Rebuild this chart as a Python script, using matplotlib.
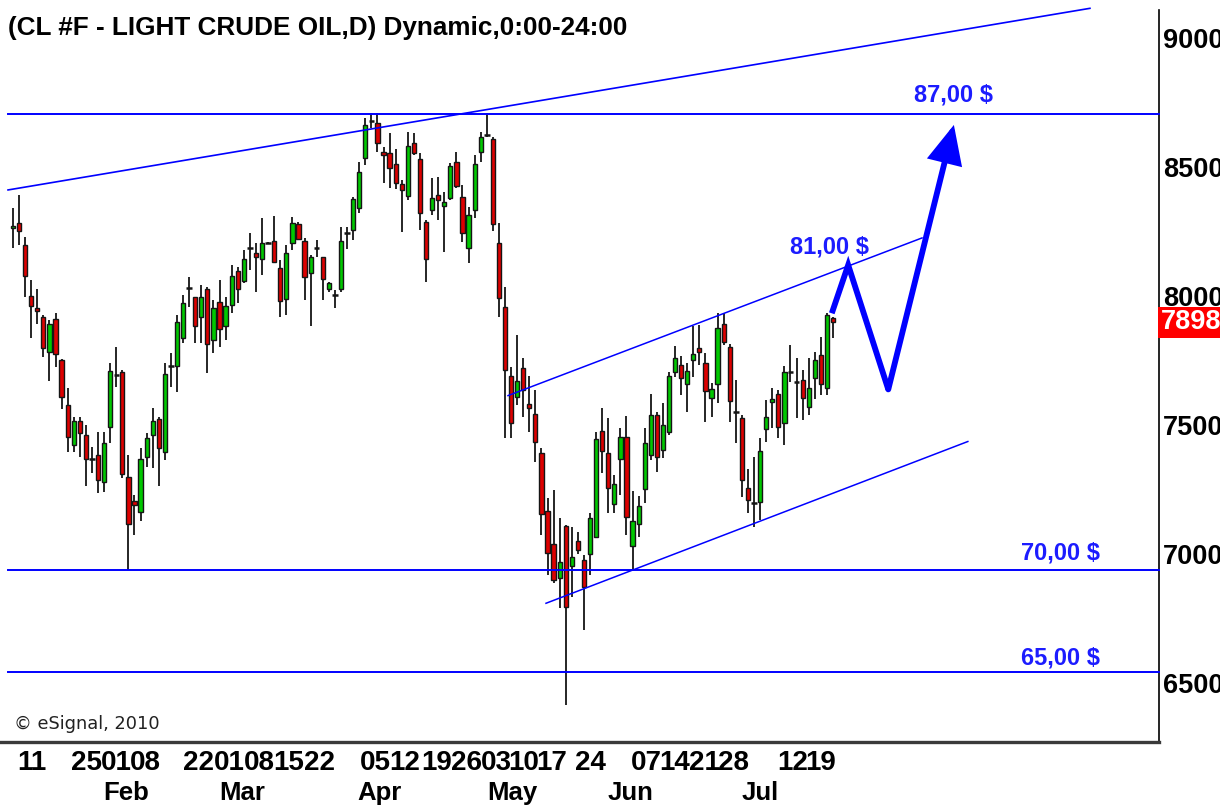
import matplotlib
matplotlib.use("Agg")
import matplotlib.pyplot as plt
import matplotlib.transforms as mtransforms
from matplotlib.patches import Rectangle

# ---------------- data (prices in cents, daily candles Jan 6 - Jul 21 2010) ----------------
opens = [8265, 8284, 8198, 8001, 7955, 7920, 7782, 7910, 7752, 7578,
         7422, 7517, 7461, 7367, 7384, 7280, 7491, 7694, 7707, 7297,
         7207, 7162, 7377, 7461, 7523, 7397, 7729, 7729, 7838, 8032,
         7995, 7920, 8026, 7829, 7978, 7885, 7965, 8098, 8058, 8185,
         8165, 8143, 8207, 8214, 8107, 7987, 8207, 8279, 8214, 8090,
         8185, 8150, 8026, 8004, 8026, 8243, 8256, 8340, 8534, 8680,
         8669, 8559, 8553, 8512, 8434, 8388, 8592, 8530, 8288, 8333,
         8391, 8349, 8379, 8521, 8385, 8185, 8333, 8559, 8624, 8607,
         8207, 7956, 7690, 7610, 7720, 7580, 7541, 7393, 7168, 7037,
         6906, 7109, 6954, 7052, 6977, 6999, 7067, 7477, 7390, 7194,
         7368, 7452, 7031, 7115, 7251, 7384, 7539, 7403, 7474, 7707,
         7733, 7658, 7752, 7797, 7742, 7603, 7658, 7891, 7804, 7552,
         7526, 7257, 7196, 7203, 7483, 7588, 7619, 7506, 7707, 7665,
         7674, 7571, 7681, 7771, 7642, 7913]
highs = [8340, 8391, 8230, 8062, 8026, 7926, 7907, 7933, 7755, 7642,
         7532, 7532, 7500, 7416, 7474, 7474, 7739, 7804, 7713, 7384,
         7229, 7410, 7468, 7565, 7532, 7739, 7778, 7926, 8004, 8075,
         7997, 8043, 8036, 7984, 8062, 7997, 8120, 8114, 8178, 8243,
         8204, 8301, 8211, 8310, 8140, 8198, 8305, 8288, 8223, 8159,
         8217, 8152, 8056, 8023, 8269, 8269, 8385, 8521, 8689, 8708,
         8708, 8579, 8630, 8568, 8450, 8637, 8630, 8553, 8295, 8456,
         8463, 8404, 8514, 8559, 8430, 8346, 8547, 8637, 8708, 8618,
         8282, 8036, 7726, 7849, 7761, 7690, 7636, 7410, 7216, 7248,
         7138, 7112, 7106, 7087, 6996, 7158, 7474, 7565, 7526, 7306,
         7487, 7535, 7245, 7225, 7487, 7620, 7552, 7587, 7707, 7806,
         7767, 7739, 7884, 7888, 7778, 7661, 7933, 7933, 7814, 7674,
         7539, 7328, 7377, 7448, 7597, 7642, 7636, 7729, 7810, 7758,
         7713, 7758, 7784, 7842, 7933, 7920]
lows = [8185, 8198, 7997, 7836, 7891, 7765, 7671, 7726, 7561, 7397,
        7397, 7377, 7263, 7313, 7238, 7242, 7429, 7649, 7296, 6938,
        7074, 7128, 7338, 7332, 7263, 7364, 7649, 7629, 7817, 7959,
        7817, 7817, 7703, 7778, 7804, 7829, 7933, 7972, 8049, 8101,
        8017, 8081, 8204, 8127, 7920, 7926, 8178, 8217, 7984, 7884,
        8152, 7984, 8017, 7952, 8017, 8181, 8217, 8320, 8508, 8650,
        8559, 8439, 8417, 8413, 8249, 8372, 8547, 8256, 8056, 8314,
        8295, 8172, 8372, 8417, 8211, 8127, 8301, 8521, 8618, 8252,
        7920, 7448, 7448, 7578, 7532, 7474, 7358, 7074, 6919, 6886,
        6789, 6415, 6835, 6999, 6705, 6919, 7061, 7313, 7158, 7158,
        7229, 7074, 6938, 7067, 7196, 7364, 7319, 7371, 7461, 7687,
        7616, 7552, 7687, 7733, 7513, 7532, 7584, 7810, 7513, 7429,
        7222, 7158, 7106, 7132, 7435, 7487, 7448, 7422, 7668, 7528,
        7519, 7539, 7599, 7616, 7616, 7836]
closes = [8270, 8253, 8079, 7962, 7943, 7797, 7891, 7775, 7610, 7452,
          7517, 7470, 7367, 7367, 7287, 7429, 7711, 7694, 7310, 7115,
          7190, 7367, 7448, 7517, 7412, 7698, 7729, 7900, 7972, 8032,
          7885, 7995, 7814, 7955, 7871, 7963, 8077, 8027, 8142, 8185,
          8150, 8207, 8207, 8130, 7982, 8168, 8284, 8220, 8072, 8150,
          8185, 8065, 8049, 8004, 8214, 8243, 8375, 8482, 8663, 8680,
          8592, 8547, 8495, 8437, 8411, 8581, 8553, 8323, 8142, 8379,
          8372, 8363, 8505, 8426, 8245, 8314, 8512, 8615, 8624, 8278,
          7994, 7713, 7509, 7670, 7636, 7565, 7435, 7154, 7005, 6899,
          6970, 6793, 6990, 7015, 6871, 7141, 7444, 7399, 7257, 7270,
          7452, 7145, 7129, 7186, 7429, 7539, 7375, 7500, 7690, 7758,
          7683, 7711, 7775, 7784, 7633, 7638, 7877, 7823, 7594, 7552,
          7287, 7209, 7196, 7399, 7532, 7602, 7494, 7704, 7707, 7665,
          7603, 7642, 7752, 7658, 7926, 7898]

last_price = 7898
day_labels = ["11", "25", "01", "08", "22", "01", "08", "15", "22", "05", "12", "19",
              "26", "03", "10", "17", "24", "07", "14", "21", "28", "12", "19"]
day_label_pos = [3.1, 12.1, 17.0, 21.8, 30.5, 35.6, 40.5, 45.4, 50.5, 59.6, 64.5, 69.8,
                 74.7, 79.5, 84.1, 88.7, 95.0, 104.2, 109.0, 113.8, 118.7, 128.3, 133.0]
month_labels = ["Feb", "Mar", "Apr", "May", "Jun", "Jul"]
month_label_pos = [18.6, 37.7, 60.3, 82.2, 101.6, 123.0]
y_ticks = [6500, 7000, 7500, 8000, 8500, 9000]

# horizontal levels
level_prices = [8705, 6938, 6542]
level_texts = ["87,00 $", "70,00 $", "65,00 $"]
level_text_pos = [(154.8, 8779), (172.4, 7004), (172.4, 6597)]

# trend lines: (x0, p0, x1, p1)
long_trend = (-0.82, 8411, 177.3, 9115)
channel_top = (81.5, 7614, 149.65, 8225)
channel_bottom = (87.75, 6809, 157.2, 7436)
target_text = ("81,00 $", 134.5, 8190)

# projected path
proj_x = [134.8, 137.5, 144.1, 154.9]
proj_p = [7933, 8120, 7638, 8663]

# ---------------- figure ----------------
W, H = 1220, 806
fig = plt.figure(figsize=(W / 100, H / 100), dpi=100)
fig.patch.set_facecolor("white")
ax = fig.add_axes([0, 64 / H, 1159 / W, 732 / H])
ax.set_xlim(-2.14, 188.67)
ax.set_ylim(6271.3, 9108.5)
ax.set_facecolor("white")

FAM = ["Liberation Sans", "DejaVu Sans"]
BLUE = "#0000ff"
LBLUE = "#1c1cff"

for s in ["left", "top"]:
    ax.spines[s].set_visible(False)
ax.spines["right"].set_color("black")
ax.spines["right"].set_linewidth(1.2)
ax.spines["bottom"].set_color("#3a3a3a")
ax.spines["bottom"].set_linewidth(2.4)

# candles
bw = 0.70
for i, (o, h, l, c) in enumerate(zip(opens, highs, lows, closes)):
    ax.plot([i, i], [l, h], color="#151515", lw=1.3, zorder=2, solid_capstyle="butt")
    if abs(c - o) < 4:
        ax.plot([i - 0.45, i + 0.45], [c, c], color="#151515", lw=1.8, zorder=3,
                solid_capstyle="butt")
    else:
        col = "#00c800" if c > o else "#dd0000"
        ax.add_patch(Rectangle((i - bw / 2, min(o, c)), bw, abs(c - o),
                               facecolor=col, edgecolor="#151515", lw=1.0, zorder=3))

# horizontal level lines
for lvl in level_prices:
    ax.plot([-0.82, 188.67], [lvl, lvl], color=BLUE, lw=1.4, zorder=4, clip_on=False)
for t, (xx, pp) in zip(level_texts, level_text_pos):
    ax.text(xx, pp, t, color=LBLUE, fontsize=17, fontweight="bold", family=FAM,
            ha="center", va="center", zorder=5)

# trend lines
for (x0, p0, x1, p1), lw in [(long_trend, 1.2), (channel_top, 1.1), (channel_bottom, 1.1)]:
    ax.plot([x0, x1], [p0, p1], color=BLUE, lw=lw, zorder=4, clip_on=False)
ax.text(target_text[1], target_text[2], target_text[0], color=LBLUE, fontsize=17,
        fontweight="bold", family=FAM, ha="center", va="center", zorder=5)

# projection path with arrow
ax.plot(proj_x[:3], proj_p[:3], color=BLUE, lw=4.2, zorder=6,
        solid_joinstyle="miter", solid_capstyle="butt")
ax.annotate("", xy=(proj_x[3], proj_p[3]), xytext=(proj_x[2], proj_p[2]),
            arrowprops=dict(arrowstyle="-|>,head_length=1.4,head_width=0.65",
                            mutation_scale=15, color=BLUE, lw=4.2,
                            shrinkA=0, shrinkB=0, joinstyle="miter"),
            zorder=6)

# axes ticks
ax.yaxis.tick_right()
ax.set_yticks(y_ticks)
ax.set_yticklabels([str(v) for v in y_ticks], fontsize=19.5, fontweight="bold", family=FAM)
ax.tick_params(axis="y", length=0, pad=3)
ax.set_xticks([])

trans_x = mtransforms.blended_transform_factory(ax.transData, fig.transFigure)
for lab, pos in zip(day_labels, day_label_pos):
    ax.text(pos, (H - 763) / H, lab, transform=trans_x, ha="center", va="center",
            fontsize=20, fontweight="bold", family=FAM, clip_on=False)
for lab, pos in zip(month_labels, month_label_pos):
    ax.text(pos, (H - 793) / H, lab, transform=trans_x, ha="center", va="center",
            fontsize=18.5, fontweight="bold", family=FAM, clip_on=False)

# last price box
trans_y = mtransforms.blended_transform_factory(fig.transFigure, ax.transData)
ax.text(1161 / W, last_price, str(last_price), transform=trans_y, ha="left", va="center",
        fontsize=19.5, fontweight="bold", family=FAM, color="white", clip_on=False,
        bbox=dict(boxstyle="square,pad=0.1", facecolor="#ff0000", edgecolor="none"))

# title and copyright
fig.text(8 / W, (H - 28) / H, "(CL #F - LIGHT CRUDE OIL,D) Dynamic,0:00-24:00",
         fontsize=18.8, fontweight="bold", family=FAM, ha="left", va="center")
fig.text(14 / W, (H - 724) / H, "\u00a9 eSignal, 2010", fontsize=12.8,
         family=["DejaVu Sans"], ha="left", va="center", color="#222222")

fig.savefig("out.png", dpi=100, facecolor="white")
